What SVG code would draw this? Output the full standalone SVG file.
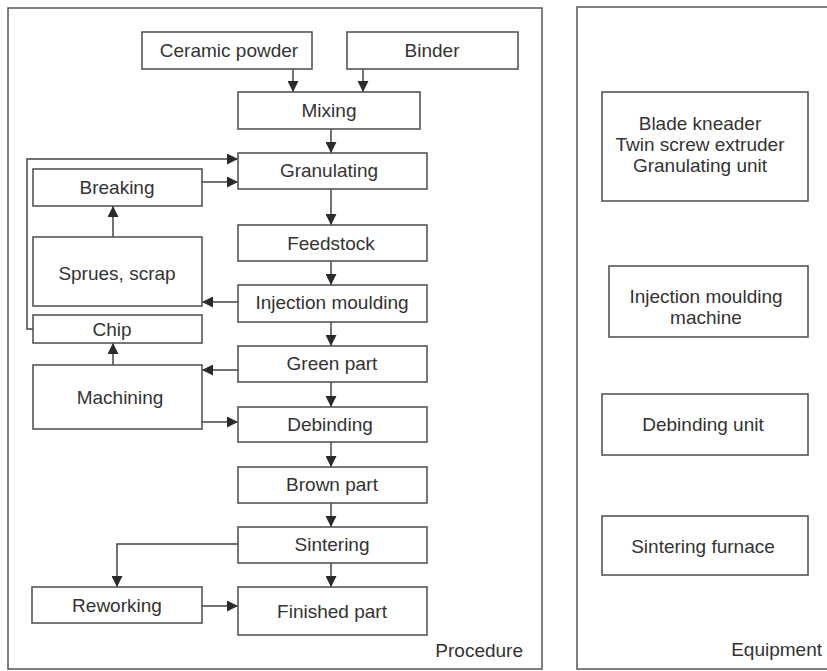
<svg xmlns="http://www.w3.org/2000/svg" width="827" height="671" viewBox="0 0 827 671">
<defs>
<marker id="ah" viewBox="0 0 10 10" refX="10" refY="5" markerWidth="11" markerHeight="11" markerUnits="userSpaceOnUse" orient="auto">
<path d="M0,0 L10,5 L0,10 z" fill="#2a2a2a"/>
</marker>
<style>
.panel{fill:#fff;stroke:#555;stroke-width:1.5}
.box{fill:#fff;stroke:#555;stroke-width:1.6}
.t{font-family:"Liberation Sans",Arial,sans-serif;font-size:19px;fill:#333;text-anchor:middle}
.lbl{font-family:"Liberation Sans",Arial,sans-serif;font-size:19px;fill:#333;text-anchor:end}
.c{fill:none;stroke:#444;stroke-width:1.5}
.ca{fill:none;stroke:#444;stroke-width:1.5;marker-end:url(#ah)}
</style>
</defs>
<rect width="827" height="671" fill="#fff"/>
<g id="panel-procedure">
<rect class="panel" x="8" y="8" width="534" height="661"/>
<text class="lbl" x="523" y="657">Procedure</text>
</g>
<g id="panel-equipment">
<rect class="panel" x="577" y="7" width="260" height="662"/>
<text class="lbl" x="822" y="656">Equipment</text>
</g>
<g id="connectors">
<path class="ca" d="M293,69 V92"/>
<path class="ca" d="M363,69 V92"/>
<path class="ca" d="M331,129 V153"/>
<path class="ca" d="M331,189 V225"/>
<path class="ca" d="M331,261 V285"/>
<path class="ca" d="M331,322 V346"/>
<path class="ca" d="M331,382 V407"/>
<path class="ca" d="M331,442 V467"/>
<path class="ca" d="M331,503 V527"/>
<path class="ca" d="M331,563 V587"/>
<path class="ca" d="M202,182 H238"/>
<path class="ca" d="M33,329 H27 V159 H238"/>
<path class="ca" d="M113,237 V206"/>
<path class="ca" d="M238,302 H202"/>
<path class="ca" d="M238,370 H202"/>
<path class="ca" d="M113,365 V343"/>
<path class="ca" d="M202,422 H238"/>
<path class="ca" d="M238,544 H117 V587"/>
<path class="ca" d="M202,606 H238"/>
</g>
<g id="ceramic-powder"><rect class="box" x="142" y="32" width="170" height="37"/><text class="t" x="229" y="57">Ceramic powder</text></g>
<g id="binder"><rect class="box" x="347" y="32" width="171" height="37"/><text class="t" x="432" y="57">Binder</text></g>
<g id="mixing"><rect class="box" x="238" y="92" width="182" height="37"/><text class="t" x="329" y="117">Mixing</text></g>
<g id="granulating"><rect class="box" x="238" y="153" width="189" height="36"/><text class="t" x="329" y="177">Granulating</text></g>
<g id="breaking"><rect class="box" x="33" y="169" width="169" height="37"/><text class="t" x="117" y="194">Breaking</text></g>
<g id="feedstock"><rect class="box" x="238" y="225" width="189" height="36"/><text class="t" x="331" y="250">Feedstock</text></g>
<g id="sprues-scrap"><rect class="box" x="33" y="237" width="169" height="69"/><text class="t" x="117" y="280">Sprues, scrap</text></g>
<g id="injection-moulding"><rect class="box" x="238" y="285" width="189" height="37"/><text class="t" x="332" y="309">Injection moulding</text></g>
<g id="chip"><rect class="box" x="33" y="315" width="169" height="28"/><text class="t" x="112" y="336">Chip</text></g>
<g id="green-part"><rect class="box" x="238" y="346" width="189" height="36"/><text class="t" x="332" y="370">Green part</text></g>
<g id="machining"><rect class="box" x="33" y="365" width="169" height="64"/><text class="t" x="120" y="404">Machining</text></g>
<g id="debinding"><rect class="box" x="238" y="407" width="189" height="35"/><text class="t" x="330" y="431">Debinding</text></g>
<g id="brown-part"><rect class="box" x="238" y="467" width="189" height="36"/><text class="t" x="332" y="491">Brown part</text></g>
<g id="sintering"><rect class="box" x="238" y="527" width="189" height="36"/><text class="t" x="332" y="551">Sintering</text></g>
<g id="reworking"><rect class="box" x="32" y="587" width="170" height="36"/><text class="t" x="117" y="612">Reworking</text></g>
<g id="finished-part"><rect class="box" x="238" y="587" width="189" height="48"/><text class="t" x="332" y="618">Finished part</text></g>
<g id="eq-granulating"><rect class="box" x="602" y="92" width="206" height="109"/><text class="t" x="700" y="130">Blade kneader</text><text class="t" x="700" y="151">Twin screw extruder</text><text class="t" x="700" y="172">Granulating unit</text></g>
<g id="eq-injection"><rect class="box" x="609" y="266" width="199" height="71"/><text class="t" x="706" y="303">Injection moulding</text><text class="t" x="706" y="324">machine</text></g>
<g id="eq-debinding"><rect class="box" x="602" y="394" width="206" height="61"/><text class="t" x="703" y="431">Debinding unit</text></g>
<g id="eq-sintering"><rect class="box" x="602" y="516" width="206" height="59"/><text class="t" x="703" y="553">Sintering furnace</text></g>
</svg>
